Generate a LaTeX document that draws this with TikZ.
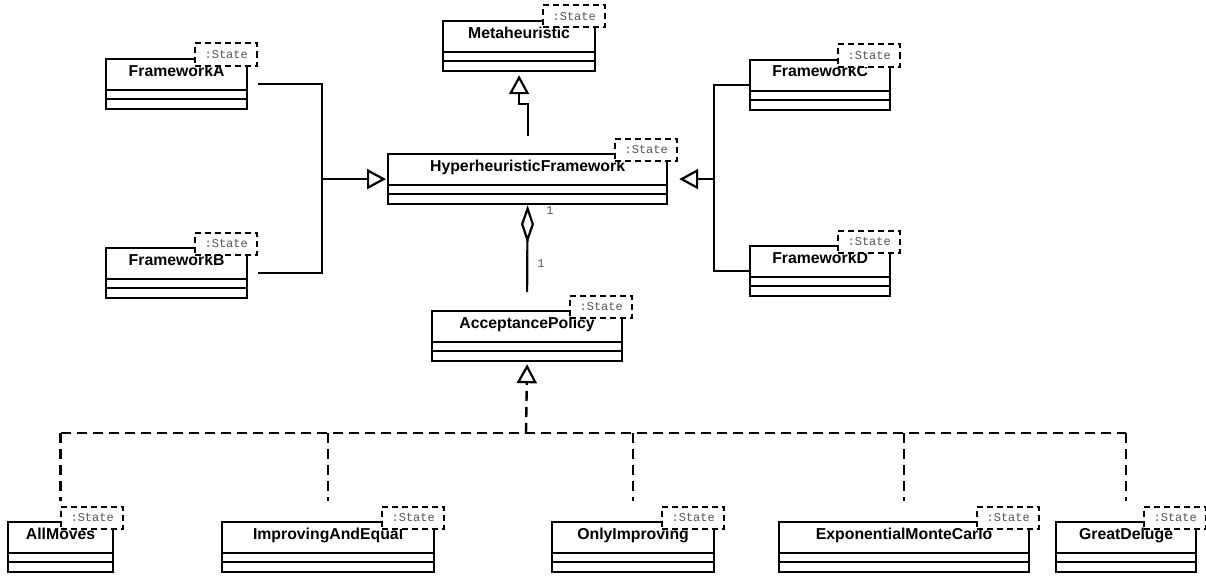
\documentclass[tikz,border=0pt]{standalone}
\usepackage{fontspec}
\setmainfont{Liberation Sans}
\newfontfamily\monofont{Liberation Mono}
\usetikzlibrary{arrows.meta}
\definecolor{tagcol}{HTML}{555555}

\tikzset{
  umlbox/.style={draw, line width=2.2pt, fill=white, inner sep=0pt,
    minimum height=50pt, anchor=north west},
  sepline/.style={line width=2.2pt},
  classname/.style={font=\fontsize{15.8}{18}\selectfont\bfseries,
    anchor=base, inner sep=0pt},
  statetag/.style={draw, line width=2pt, dash pattern=on 6pt off 4pt,
    fill=white, minimum width=62pt, minimum height=22pt, inner sep=0pt,
    anchor=north east, font=\monofont\fontsize{12}{12}\selectfont, text=tagcol},
  mult/.style={font=\monofont\fontsize{12}{12}\selectfont, text=tagcol, inner sep=0pt},
  conn/.style={line width=2.2pt},
  gen/.style={conn, -{Triangle[open, length=19pt, width=20pt, line width=2.2pt]}},
  agg/.style={conn, -{Diamond[open, length=38pt, width=13pt, line width=2.2pt]}},
  realdash/.style={line width=2.4pt, dash pattern=on 10pt off 6pt},
  real/.style={realdash, -{Triangle[open, length=19pt, width=20pt, line width=2.2pt]}},
}

% class box: name, left, top, width, title
\newcommand\umlclass[5]{%
  \node[umlbox, minimum width=#4pt] (#1) at (#2,#3) {};
  \draw[sepline] ([yshift=-32pt]#1.north west) -- ([yshift=-32pt]#1.north east)
                 ([yshift=-41pt]#1.north west) -- ([yshift=-41pt]#1.north east);
  \node[classname] (#1-name) at ([yshift=-18pt]#1.north) {#5};
  \node[statetag] (#1-tag) at ([xshift=10pt,yshift=15.5pt]#1.north east) {:State};
}

\begin{document}
\begin{tikzpicture}[x=1pt, y=-1pt]
\useasboundingbox (0,0) rectangle (1206,578);

\umlclass{meta}{442}{20}{152}{Metaheuristic}
\umlclass{fa}{105}{58}{141}{FrameworkA}
\umlclass{fb}{105}{247}{141}{FrameworkB}
\umlclass{hyp}{387}{153}{279}{HyperheuristicFramework}
\umlclass{fc}{749}{59}{140}{FrameworkC}
\umlclass{fd}{749}{245}{140}{FrameworkD}
\umlclass{acc}{431}{310}{190}{AcceptancePolicy}
\umlclass{am}{7}{521}{105}{AllMoves}
\umlclass{iae}{221}{521}{212}{ImprovingAndEqual}
\umlclass{oi}{551}{521}{162}{OnlyImproving}
\umlclass{emc}{778}{521}{250}{ExponentialMonteCarlo}
\umlclass{gd}{1055}{521}{140}{GreatDeluge}

% generalisation to Metaheuristic
\draw[gen] ([yshift=17pt]hyp.north) -- ++(0,-32) -| ([yshift=-3pt]meta.south);

% frameworks on the left
\coordinate (jl) at ([xshift=-65pt]hyp.west);
\draw[gen] ([xshift=10pt]fa.east) -| (jl) -- ([xshift=-1pt]hyp.west);
\draw[conn] ([xshift=10pt]fb.east) -| (jl);

% frameworks on the right
\coordinate (jr) at ([xshift=46pt]hyp.east);
\draw[gen] (fc.west) -| (jr) -- ([xshift=11pt]hyp.east);
\draw[conn] (fd.west) -| (jr);

% aggregation
\draw[agg] ([yshift=18pt]acc.north) -- (hyp.south);
\node[mult] (m1) at (550,211) {1};
\node[mult] (m2) at (541,264) {1};

% realisations of AcceptancePolicy
\coordinate (jb) at (526,433);
\draw[real] (jb) -- ([yshift=-2pt]acc.south);
\draw[realdash] (am.north |- jb) -- (gd.north |- jb);
\foreach \c in {am,iae,oi,emc,gd}
  \draw[realdash] (\c.north |- jb) -- ([yshift=20pt]\c.north);
\end{tikzpicture}
\end{document}
